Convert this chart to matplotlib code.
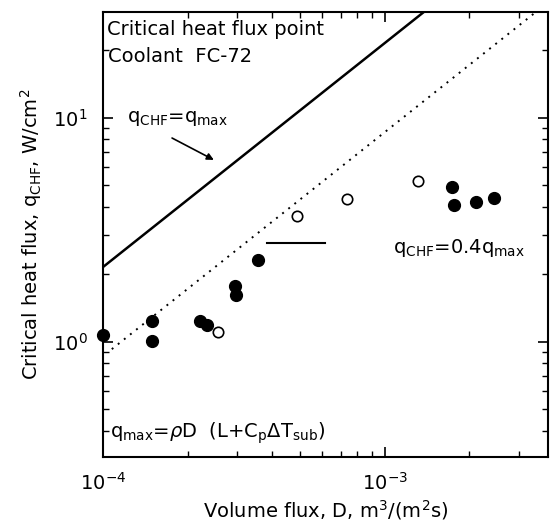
import matplotlib
matplotlib.use("Agg")
import matplotlib.pyplot as plt
import numpy as np

plt.rcParams['font.family'] = ['DejaVu Sans']
plt.rcParams['mathtext.fontset'] = 'dejavusans'

# measured points, volume flux D [m3/(m2 s)] vs CHF [W/cm2]
filled_D = [1.0e-4, 1.49e-4, 1.49e-4, 2.21e-4, 2.34e-4, 2.94e-4, 2.96e-4,
            3.55e-4, 1.74e-3, 1.77e-3, 2.12e-3, 2.44e-3]
filled_q = [1.07, 1.24, 1.01, 1.23, 1.19, 1.77, 1.62, 2.31, 4.89, 4.06,
            4.19, 4.37]
open_D = [2.56e-4, 4.91e-4, 7.33e-4, 1.31e-3]
open_q = [1.10, 3.63, 4.32, 5.2]

# q_max = rho D (L + cp dT_sub), slope of the line in W/cm2 per m3/(m2 s)
qmax_coef = 2.15e4
chf_ratio = 0.4

x_lim = [1e-4, 3.8e-3]
y_lim = [0.305, 29.6]

fig = plt.figure(figsize=(5.5, 5.29), dpi=100)
ax = fig.add_axes([0.187, 0.136, 0.809, 0.841])
ax.set_xscale('log')
ax.set_yscale('log')
ax.set_xlim(x_lim)
ax.set_ylim(y_lim)

D_line = np.logspace(np.log10(x_lim[0]), np.log10(x_lim[1]), 200)
ax.plot(D_line, qmax_coef * D_line, color='black', lw=1.8)
D_dot = D_line[D_line > 1.06e-4]
ax.plot(D_dot, chf_ratio * qmax_coef * D_dot, color='black', lw=1.4,
        linestyle=(0, (1, 3)))

ax.plot(filled_D, filled_q, 'o', color='black', ms=8.5, clip_on=False)
ax.plot(open_D, open_q, 'o', mfc='white', mec='black', mew=1.2, ms=7.5)

fs = 14
ax.text(0.009, 0.96, 'Critical heat flux point', transform=ax.transAxes,
        fontsize=fs, va='center')
ax.text(0.011, 0.90, 'Coolant  FC-72', transform=ax.transAxes,
        fontsize=fs, va='center')
ax.text(0.054, 0.76, r'$\mathrm{q_{CHF}}$=$\mathrm{q_{max}}$',
        transform=ax.transAxes, fontsize=fs, va='center')
ax.annotate('', xy=(0.255, 0.665), xytext=(0.15, 0.72),
            xycoords='axes fraction',
            arrowprops=dict(arrowstyle='-|>', color='black', lw=1.2))
ax.text(0.652, 0.471, r'$\mathrm{q_{CHF}}$=0.4$\mathrm{q_{max}}$',
        transform=ax.transAxes, fontsize=fs, va='center')
ax.plot([0.37, 0.50], [0.482, 0.482], color='black', lw=1.5,
        transform=ax.transAxes)
ax.text(0.016, 0.054,
        r'$\mathrm{q_{max}}$=$\rho$D  (L+$\mathrm{C_p}\Delta\mathrm{T_{sub}}$)',
        transform=ax.transAxes, fontsize=fs, va='center')

ax.set_xlabel(r'Volume flux, D, m$^3$/(m$^2$s)', fontsize=fs, labelpad=3)
ax.set_ylabel(r'Critical heat flux, $\mathrm{q_{CHF}}$, W/cm$^2$',
              fontsize=fs, labelpad=6)

ax.tick_params(which='both', direction='in', top=True, right=True,
               labelsize=fs)
ax.tick_params(which='major', length=7, width=1.2, pad=11)
ax.tick_params(which='minor', length=4, width=1)
for sp in ax.spines.values():
    sp.set_linewidth(1.5)

fig.savefig('out.png', dpi=100)
